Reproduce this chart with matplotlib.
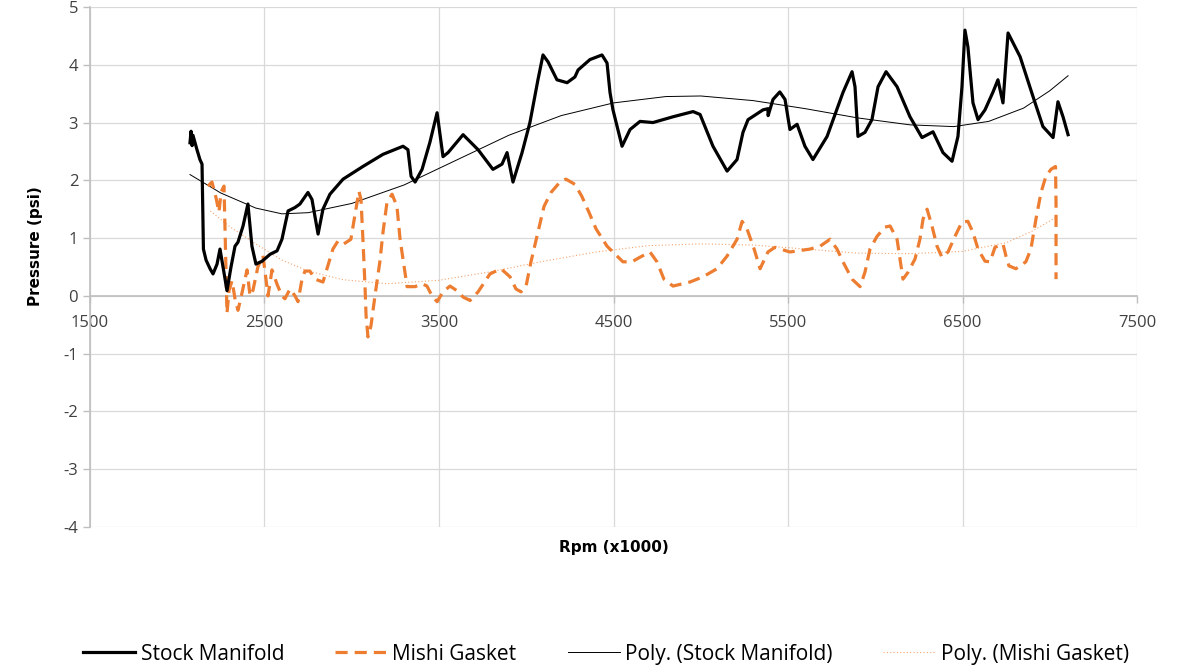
import numpy as np
import matplotlib.pyplot as plt

# Stock Manifold pressure (psi) vs rpm
stock_rpm = [2073, 2079, 2085, 2090, 2113, 2130, 2142, 2150, 2165, 2188,
             2205, 2228, 2245, 2268, 2285, 2308, 2331, 2348, 2377, 2405,
             2428, 2451, 2486, 2532, 2572, 2600, 2635, 2675, 2703, 2749,
             2772, 2807, 2835, 2875, 2950, 3064, 3179, 3294, 3322, 3340,
             3363, 3403, 3448, 3489, 3523, 3552, 3638, 3724, 3809, 3861,
             3890, 3924, 3976, 4021, 4067, 4096, 4125, 4176, 4234, 4279,
             4297, 4365, 4434, 4463, 4480, 4497, 4549, 4595, 4652, 4726,
             4841, 4956, 4996, 5070, 5151, 5208, 5242, 5271, 5357, 5385,
             5386, 5414, 5453, 5483, 5511, 5552, 5597, 5643, 5724, 5815,
             5867, 5884, 5901, 5941, 5981, 6016, 6062, 6125, 6199, 6268,
             6331, 6388, 6440, 6474, 6497, 6514, 6531, 6560, 6589, 6629,
             6675, 6703, 6732, 6761, 6830, 6904, 6961, 7019, 7047, 7076,
             7105]
stock_psi = [2.65, 2.85, 2.60, 2.78, 2.53, 2.36, 2.28, 0.81, 0.62, 0.47,
             0.38, 0.55, 0.81, 0.40, 0.09, 0.50, 0.86, 0.93, 1.21, 1.59,
             0.86, 0.55, 0.60, 0.72, 0.78, 0.98, 1.47, 1.53, 1.59, 1.79,
             1.67, 1.07, 1.50, 1.76, 2.02, 2.24, 2.45, 2.59, 2.53, 2.07,
             1.97, 2.19, 2.66, 3.17, 2.41, 2.48, 2.79, 2.53, 2.19, 2.28,
             2.48, 1.97, 2.48, 3.00, 3.74, 4.17, 4.05, 3.74, 3.69, 3.79,
             3.91, 4.09, 4.17, 4.03, 3.52, 3.22, 2.59, 2.88, 3.02, 3.00,
             3.10, 3.19, 3.14, 2.59, 2.16, 2.36, 2.83, 3.05, 3.22, 3.24,
             3.12, 3.40, 3.53, 3.40, 2.88, 2.97, 2.59, 2.36, 2.76, 3.52,
             3.88, 3.62, 2.76, 2.83, 3.05, 3.62, 3.88, 3.62, 3.10, 2.74,
             2.84, 2.48, 2.33, 2.76, 3.62, 4.60, 4.31, 3.34, 3.05, 3.22,
             3.53, 3.74, 3.34, 4.55, 4.14, 3.45, 2.93, 2.74, 3.36, 3.10,
             2.79]

# Mishi Gasket pressure (psi) vs rpm
mishi_rpm = [2176, 2199, 2222, 2239, 2251, 2268, 2280, 2285, 2297, 2314,
             2331, 2348, 2371, 2400, 2417, 2434, 2462, 2491, 2508, 2520,
             2543, 2572, 2600, 2617, 2646, 2675, 2692, 2715, 2732, 2760,
             2789, 2835, 2863, 2892, 2921, 2955, 2995, 3024, 3041, 3053,
             3064, 3076, 3082, 3093, 3110, 3133, 3161, 3179, 3202, 3231,
             3259, 3277, 3317, 3363, 3403, 3431, 3460, 3489, 3523, 3563,
             3603, 3638, 3678, 3724, 3792, 3855, 3907, 3941, 3970, 3999,
             4027, 4067, 4102, 4142, 4193, 4228, 4279, 4319, 4359, 4400,
             4463, 4497, 4554, 4606, 4652, 4709, 4749, 4789, 4841, 4938,
             5013, 5093, 5151, 5208, 5237, 5265, 5306, 5340, 5385, 5425,
             5511, 5626, 5684, 5741, 5781, 5815, 5867, 5913, 5941, 5970,
             6010, 6056, 6085, 6125, 6142, 6159, 6188, 6228, 6256, 6274,
             6297, 6325, 6354, 6382, 6417, 6457, 6497, 6531, 6560, 6589,
             6629, 6658, 6686, 6732, 6749, 6766, 6806, 6863, 6892, 6921,
             6950, 6978, 7007, 7033, 7036, 7036]
mishi_psi = [1.90, 1.97, 1.70, 1.45, 1.80, 1.90, 0.40, -0.30, 0.10, 0.26,
             -0.05, -0.25, 0.05, 0.45, 0.00, 0.10, 0.50, 0.70, 0.30, 0.00,
             0.45, 0.20, 0.00, -0.05, 0.12, 0.00, -0.10, 0.29, 0.43, 0.43,
             0.29, 0.24, 0.52, 0.81, 0.95, 0.90, 0.98, 1.50, 1.81, 1.67,
             0.98, 0.17, -0.34, -0.71, -0.52, 0.00, 0.59, 1.10, 1.62, 1.76,
             1.55, 0.98, 0.16, 0.16, 0.21, 0.17, 0.00, -0.10, 0.07, 0.17,
             0.09, -0.02, -0.08, 0.07, 0.38, 0.47, 0.33, 0.12, 0.07, 0.17,
             0.59, 1.10, 1.55, 1.79, 1.97, 2.02, 1.93, 1.72, 1.45, 1.16,
             0.86, 0.76, 0.59, 0.59, 0.67, 0.76, 0.59, 0.29, 0.17, 0.24,
             0.33, 0.47, 0.69, 0.98, 1.29, 1.16, 0.81, 0.47, 0.76, 0.84,
             0.76, 0.81, 0.86, 0.98, 0.81, 0.59, 0.29, 0.16, 0.41, 0.81,
             1.03, 1.19, 1.21, 0.98, 0.64, 0.29, 0.41, 0.64, 0.98, 1.33,
             1.50, 1.21, 0.86, 0.67, 0.76, 1.03, 1.28, 1.29, 1.10, 0.81,
             0.60, 0.59, 0.84, 0.90, 0.69, 0.52, 0.47, 0.59, 0.81, 1.33,
             1.79, 2.07, 2.19, 2.24, 1.60, 0.29]

# polynomial trendlines as drawn on the chart
poly_stock_rpm = [2073, 2250, 2450, 2600, 2750, 3000, 3300, 3600, 3900, 4200,
                  4500, 4800, 5000, 5300, 5600, 5900, 6200, 6450, 6650, 6850,
                  7000, 7105]
poly_stock_psi = [2.10, 1.78, 1.52, 1.42, 1.44, 1.60, 1.92, 2.35, 2.78, 3.12,
                  3.34, 3.45, 3.46, 3.38, 3.24, 3.08, 2.96, 2.93, 3.02, 3.25,
                  3.55, 3.81]
poly_mishi_rpm = [2190, 2300, 2450, 2600, 2750, 2950, 3200, 3500, 3800, 4100,
                  4400, 4700, 5000, 5300, 5600, 5900, 6200, 6500, 6750, 6900,
                  7036]
poly_mishi_psi = [1.47, 1.20, 0.90, 0.62, 0.43, 0.28, 0.21, 0.27, 0.42, 0.60,
                  0.76, 0.87, 0.90, 0.88, 0.81, 0.74, 0.73, 0.77, 0.92, 1.12,
                  1.36]

orange = "#ED7D31"

plt.rcParams["font.family"] = ["Open Sans", "DejaVu Sans"]
plt.rcParams["axes.unicode_minus"] = False

fig = plt.figure(figsize=(11.86, 6.66), dpi=100)
ax = fig.add_axes([90 / 1186, 139 / 666, 1047 / 1186, 520 / 666])

ax.plot(stock_rpm, stock_psi, color="black", lw=2.3, solid_joinstyle="round",
        label="Stock Manifold", zorder=4)
ax.plot(mishi_rpm, mishi_psi, color=orange, lw=2.3, dashes=(3.8, 2.2),
        label="Mishi Gasket", zorder=3)
ax.plot(poly_stock_rpm, poly_stock_psi, color="black", lw=0.7,
        label="Poly. (Stock Manifold)", zorder=2)
ax.plot(poly_mishi_rpm, poly_mishi_psi, color=orange, lw=0.8, alpha=0.7,
        dashes=(1, 2), label="Poly. (Mishi Gasket)", zorder=2)

ax.set_xlim(1500, 7500)
ax.set_ylim(-4, 5)
ax.set_xticks(np.arange(1500, 7501, 1000))
ax.set_yticks(np.arange(-4, 6, 1))
ax.grid(True, color="#d9d9d9", lw=0.9)
ax.set_axisbelow(True)

for s in ["top", "right"]:
    ax.spines[s].set_visible(False)
ax.spines["bottom"].set_position(("data", 0))
ax.spines["bottom"].set_color("#bfbfbf")
ax.spines["left"].set_color("#bfbfbf")
ax.spines["bottom"].set_linewidth(1.2)
ax.spines["left"].set_linewidth(1.2)
ax.tick_params(axis="both", colors="#bfbfbf", labelcolor="#404040",
               labelsize=12, length=5, width=1)
ax.tick_params(axis="x", pad=9)

ax.set_xlabel("Rpm (x1000)", fontsize=11, fontweight="bold", color="black",
              family="DejaVu Sans")
ax.xaxis.set_label_coords(0.5, -0.025)
ax.set_ylabel("Pressure (psi)", fontsize=11, fontweight="bold", color="black",
              family="DejaVu Sans")
ax.yaxis.set_label_coords(-0.045, 0.54)

fig.legend(loc="lower center", ncol=4, bbox_to_anchor=(0.511, -0.026),
           frameon=False, handlelength=2.5, handletextpad=0.25,
           columnspacing=2.45,
           prop={"family": ["Open Sans", "DejaVu Sans"], "size": 15})

fig.savefig("out.png", dpi=100)
